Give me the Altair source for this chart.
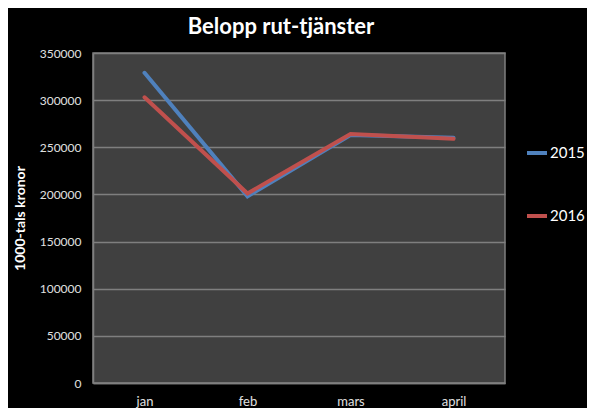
import altair as alt
import pandas as pd

months = ["jan", "feb", "mars", "april"]
years = ["2015", "2016"]
values_2015 = [329000, 198000, 263000, 260000]
values_2016 = [303000, 201000, 264000, 259000]
y_ticks = [0, 50000, 100000, 150000, 200000, 250000, 300000, 350000]

rows = []
for m, v in zip(months, values_2015):
    rows.append({"month": m, "year": "2015", "value": v})
for m, v in zip(months, values_2016):
    rows.append({"month": m, "year": "2016", "value": v})
df = pd.DataFrame(rows)

FONT = "Lato"

chart = alt.Chart(df).mark_line(strokeWidth=4, strokeCap="round").encode(
    x=alt.X("month:N", sort=months, scale=alt.Scale(paddingInner=0, paddingOuter=0),
            axis=alt.Axis(title=None, labelAngle=0, labelFontSize=13, labelColor="#e0e0e0",
                          labelFont=FONT, labelPadding=12, ticks=False, domain=True,
                          domainColor="#7f7f7f", domainWidth=1.5, grid=False)),
    y=alt.Y("value:Q", scale=alt.Scale(domain=[0, 350000], nice=False),
            axis=alt.Axis(values=y_ticks, format="d", title="1000-tals kronor",
                          titleFont=FONT, titleFontSize=14, titleFontWeight="bold",
                          titleColor="#ffffff", titlePadding=12,
                          labelFontSize=12, labelColor="#e0e0e0", labelFont=FONT,
                          labelPadding=12, ticks=False, domain=True,
                          domainColor="#7f7f7f", domainWidth=1.5,
                          grid=True, gridColor="#7f7f7f", gridWidth=1.5)),
    color=alt.Color("year:N", scale=alt.Scale(domain=years, range=["#4F81BD", "#C0504D"]),
                    legend=alt.Legend(title=None, orient="none", legendX=432, legendY=88,
                                      symbolType="stroke", symbolStrokeWidth=4, symbolSize=400,
                                      labelFontSize=15, labelColor="#ffffff", labelFont=FONT,
                                      labelOffset=1, rowPadding=43)),
    detail="year:N",
).properties(
    width=412,
    height=330,
    title=alt.TitleParams("Belopp rut-tjänster", font=FONT, fontSize=22, fontWeight="bold",
                          color="#ffffff", anchor="middle", dx=-18, offset=8),
    autosize=alt.AutoSizeParams(type="none"),
    padding={"left": 85, "top": 45, "right": 82, "bottom": 25},
    background="#000000",
).configure_view(fill="#404040", stroke="#7f7f7f", strokeWidth=1.5)

chart.save("out.html", embed_options={"renderer": "svg", "actions": False})
